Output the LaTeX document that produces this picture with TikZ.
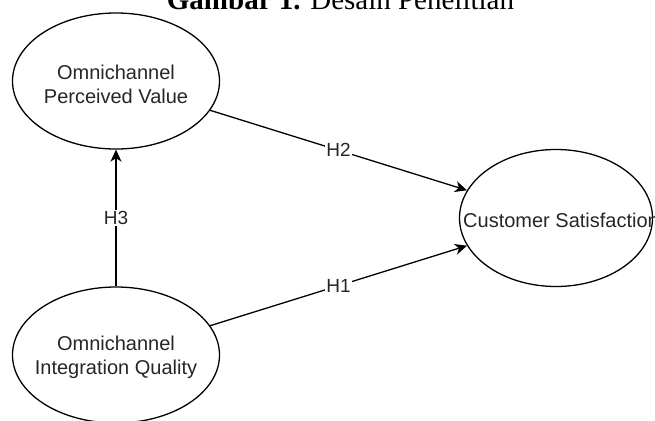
\documentclass[tikz,border=0pt]{standalone}
\usepackage{fontspec}
\setmainfont{Liberation Serif}
\newfontfamily\arialf{Liberation Sans}
\usetikzlibrary{shapes.geometric,arrows.meta}
\begin{document}
\begin{tikzpicture}[x=1pt,y=-1pt,
  construct/.style={draw, line width=1.3pt, ellipse, inner sep=0pt},
  ctext/.style={font=\arialf\fontsize{20}{24}\selectfont, align=center, inner sep=0pt, text=black!85},
  hyp/.style={font=\arialf\fontsize{19}{22}\selectfont, fill=white, inner sep=1pt, text=black!85},
  link/.style={line width=1.3pt, -{Stealth[length=12pt,width=11pt,inset=3.5pt]}}]
\useasboundingbox (0,0) rectangle (655,420);
\node[anchor=base, font=\fontsize{29}{33}\selectfont] (title) at (340.5,10) {\textbf{Gambar 1.} Desain Penelitian};
\node[construct, minimum width=207pt, minimum height=136pt] (pv) at (116,81) {};
\node[construct, minimum width=207pt, minimum height=136pt] (iq) at (116,355) {};
\node[construct, minimum width=193pt, minimum height=137pt] (cs) at (556,218) {};
\node[ctext] (pvt) at (116,84) {Omnichannel\\Perceived Value};
\node[ctext] (iqt) at (116,357) {Omnichannel\\Integration Quality};
\node[ctext, anchor=west] (cst) at (463,220) {Customer Satisfaction};
\draw[link] (pv) -- node[hyp] (h2) {H2} (cs);
\draw[link] (iq) -- node[hyp] (h1) {H1} (cs);
\draw[link] (iq) -- node[hyp] (h3) {H3} (pv);
\end{tikzpicture}
\end{document}
